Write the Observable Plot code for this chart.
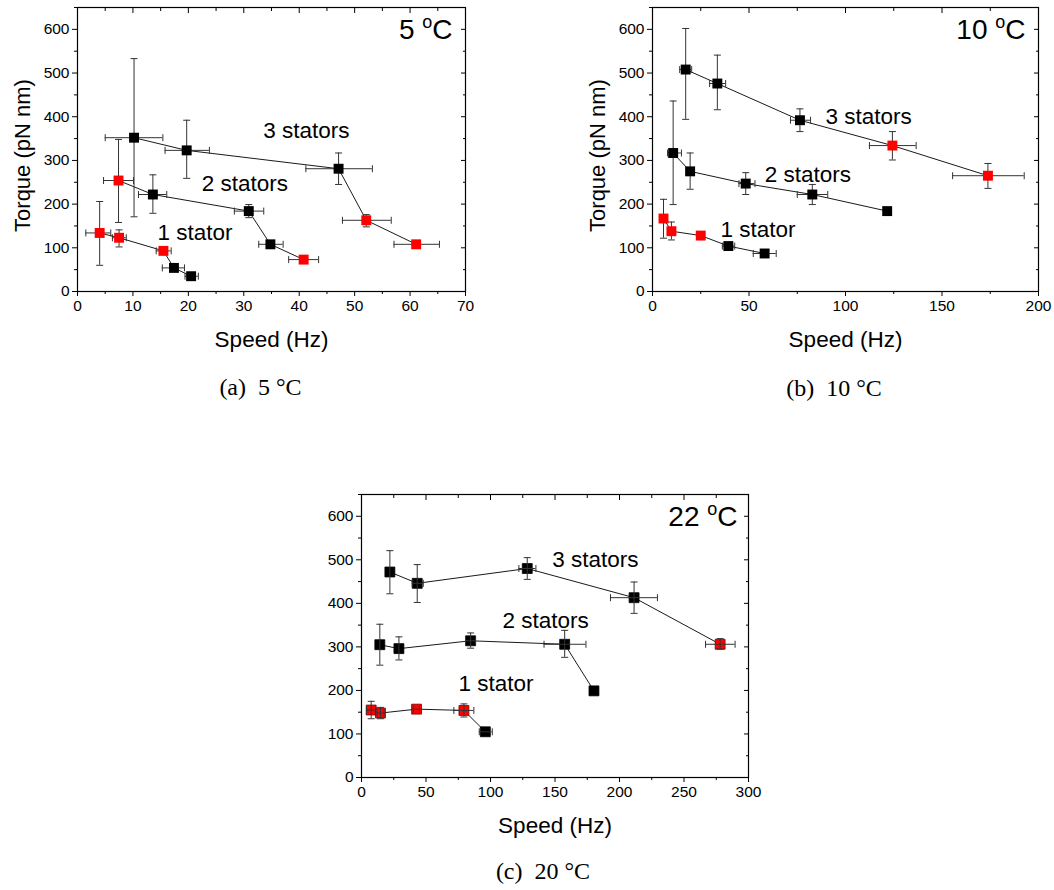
<!DOCTYPE html>
<html><head><meta charset="utf-8">
<script src="https://cdn.jsdelivr.net/npm/d3@7"></script>
<script src="https://cdn.jsdelivr.net/npm/@observablehq/plot@0.6"></script>
<style>
body{margin:0;background:#fff;}
#wrap{position:relative;width:1054px;height:890px;background:#fff;overflow:hidden}
.panel{position:absolute}
.cap{position:absolute;font-family:"Liberation Serif","DejaVu Serif",serif;font-size:24px;transform:translate(-50%,-50%);white-space:nowrap;color:#000;line-height:1}
.cap span{margin-right:12px}
</style></head><body><div id="wrap"></div>
<script>
// ---------- Panel (a) 5 °C ----------
const aStators  = [3,3,3,3,3, 2,2,2,2,2, 1,1,1,1,1];
const aSpeed    = [10.2, 19.7, 47.1, 52.1, 61.1, 7.4, 13.6, 30.9, 34.8, 40.8, 4.0, 7.5, 15.5, 17.4, 20.5];
const aTorque   = [352, 323, 281, 163, 108, 254, 222, 184, 108, 73, 134, 123, 93, 54, 35];
const aTorqueLo = [171, 259, 245, 148, null, 158, 179, 169, null, null, 60, 102, null, null, null];
const aTorqueHi = [533, 392, 317, 176, null, 348, 267, 199, null, null, 206, 141, null, null, null];
const aSpeedLo  = [5.0, 15.8, 41.2, 47.8, 57.1, 4.7, 11.0, 28.3, 32.7, 38.1, 1.5, 6.3, 14.2, 15.3, 19.4];
const aSpeedHi  = [15.4, 23.8, 53.2, 56.6, 65.3, 10.1, 16.1, 33.6, 37.1, 43.5, 6.0, 8.8, 16.9, 19.3, 21.8];
const aRed      = [0,0,0,1,1, 1,0,0,0,1, 1,1,1,0,0];
const aLabelX   = [41.3, 30.2, 21.2];
const aLabelY   = [367, 246, 134];

// ---------- Panel (b) 10 °C ----------
const bStators  = [3,3,3,3,3, 2,2,2,2,2, 1,1,1,1,1];
const bSpeed    = [17.2, 33.6, 76.4, 124.3, 173.8, 10.7, 19.5, 48.3, 82.8, 121.6, 5.7, 9.8, 25.0, 39.3, 58.1];
const bTorque   = [508, 476, 392, 334, 265, 317, 275, 247, 222, 184, 167, 138, 128, 104, 87];
const bTorqueLo = [394, 416, 366, 301, 236, 199, 234, 222, 199, null, 122, 118, null, null, null];
const bTorqueHi = [602, 541, 418, 366, 293, 436, 317, 272, 245, null, 211, 159, null, null, null];
const bSpeedLo  = [14.1, 29.6, 71.5, 112.4, 155.5, 7.8, 17.5, 44.8, 75.0, null, null, null, null, 36.2, 52.2];
const bSpeedHi  = [20.3, 37.9, 81.9, 136.6, 192.6, 15.0, 21.5, 53.1, 90.8, null, null, null, null, 42.6, 64.1];
const bRed      = [0,0,0,1,1, 0,0,0,0,0, 1,1,1,0,0];
const bLabelX   = [112, 80.5, 54.7];
const bLabelY   = [400, 268, 142];

// ---------- Panel (c) 22 °C ----------
const cStators  = [3,3,3,3,3, 2,2,2,2,2, 1,1,1,1,1];
const cSpeed    = [22.0, 43.2, 128.5, 211.3, 278.0, 14.2, 29.0, 84.6, 157.5, 180.2, 7.5, 14.7, 42.7, 79.4, 96.0];
const cTorque   = [472, 446, 480, 413, 306, 305, 296, 314, 306, 199, 155, 148, 157, 154, 105];
const cTorqueLo = [422, 402, 455, 377, 295, 258, 270, 297, 276, null, 135, 135, null, 139, null];
const cTorqueHi = [521, 489, 505, 449, 319, 352, 323, 332, 338, null, 175, 161, null, 169, null];
const cSpeedLo  = [null, 39.3, 122.0, 193.0, 266.7, null, null, 80.7, 141.5, null, 3.9, 12.0, 40.0, 71.6, 91.3];
const cSpeedHi  = [null, 47.9, 135.2, 229.4, 289.6, null, null, 88.4, 174.0, null, 11.1, 17.5, 45.0, 87.1, 101.4];
const cRed      = [0,0,0,0,1, 0,0,0,0,0, 1,1,1,1,0];
const cLabelX   = [181.3, 142.7, 104.3];
const cLabelY   = [501, 360, 215];

// ---------- shared text ----------
const seriesLabels = ["3 stators", "2 stators", "1 stator"];
const tempLabels   = ["5 °C", "10 °C", "22 °C"];
const captions     = ["(a) 5 °C", "(b) 10 °C", "(c) 20 °C"];
const yMajor = [0,100,200,300,400,500,600];
const yMinor = [50,150,250,350,450,550,650];
const aXMajor = [0,10,20,30,40,50,60,70];
const aXMinor = [5,15,25,35,45,55,65];
const bXMajor = [0,50,100,150,200];
const bXMinor = [25,75,125,175];
const cXMajor = [0,50,100,150,200,250,300];
const cXMinor = [25,75,125,175,225,275];

const hcap = {draw(ctx){ ctx.moveTo(-3.5,0); ctx.lineTo(3.5,0); }};
const vcap = {draw(ctx){ ctx.moveTo(0,-3.5); ctx.lineTo(0,3.5); }};
const ERR = "#333";
const RED = "#ff0000";

function makePanel(o) {
  const rows = o.speed.map((s,i) => ({
    n: o.stators[i], s, t: o.torque[i],
    tlo: o.tlo[i], thi: o.thi[i], slo: o.slo[i], shi: o.shi[i], red: o.red[i]
  }));
  const vErr = rows.filter(d => d.tlo != null);
  const hErr = rows.filter(d => d.slo != null);
  const errMarks = [
    Plot.ruleX(vErr, {x: "s", y1: "tlo", y2: "thi", stroke: ERR, strokeWidth: 1}),
    Plot.dot(vErr, {x: "s", y: "tlo", symbol: hcap, fill: "none", stroke: ERR, strokeWidth: 1}),
    Plot.dot(vErr, {x: "s", y: "thi", symbol: hcap, fill: "none", stroke: ERR, strokeWidth: 1}),
    Plot.ruleY(hErr, {y: "t", x1: "slo", x2: "shi", stroke: ERR, strokeWidth: 1}),
    Plot.dot(hErr, {x: "slo", y: "t", symbol: vcap, fill: "none", stroke: ERR, strokeWidth: 1}),
    Plot.dot(hErr, {x: "shi", y: "t", symbol: vcap, fill: "none", stroke: ERR, strokeWidth: 1})
  ];
  const dots = Plot.dot(rows, {x: "s", y: "t", symbol: "square", r: 5.6,
    fill: d => d.red ? RED : "black", stroke: o.redStroke ? (d => d.red ? "#7a0000" : "black") : "none", strokeWidth: 0.8});
  const marks = [
    Plot.frame({stroke: "black", strokeWidth: 1.2}),
    Plot.axisX({ticks: o.xMajor, tickSize: 5, tickPadding: 3, fontSize: 15.5, label: null}),
    Plot.axisX({ticks: o.xMinor, tickSize: 3, tickFormat: () => "", label: null}),
    Plot.axisX({anchor: "top", ticks: o.xMajor, tickSize: -5, tickFormat: () => "", label: null}),
    Plot.axisX({anchor: "top", ticks: o.xMinor, tickSize: -3, tickFormat: () => "", label: null}),
    Plot.axisY({ticks: yMajor, tickSize: 5, tickPadding: 3, fontSize: 15.5, label: null}),
    Plot.axisY({ticks: yMinor, tickSize: 3, tickFormat: () => "", label: null}),
    Plot.axisY({anchor: "right", ticks: yMajor, tickSize: -5, tickFormat: () => "", label: null}),
    Plot.axisY({anchor: "right", ticks: yMinor, tickSize: -3, tickFormat: () => "", label: null}),
    Plot.line(rows, {x: "s", y: "t", z: "n", stroke: "black", strokeWidth: 0.9}),
    ...(o.errOver ? [] : errMarks),
    dots,
    ...(o.errOver ? errMarks : []),
    Plot.text(seriesLabels, {x: (d,i) => o.labelX[i], y: (d,i) => o.labelY[i], fontSize: 22.5}),
    Plot.text([o.temp], {frameAnchor: "top-right", dx: o.tempDx, dy: 23, textAnchor: "end", lineAnchor: "middle", fontSize: 28}),
    Plot.text(["Speed (Hz)"], {frameAnchor: "bottom", dy: 48, lineAnchor: "middle", textAnchor: "middle", fontSize: 22.5})
  ];
  if (o.yTitle) marks.push(Plot.text(["Torque (pN nm)"], {frameAnchor: "left", dx: -54.5, dy: 6, rotate: -90, textAnchor: "middle", lineAnchor: "middle", fontSize: 22}));
  const svg = Plot.plot({
    width: o.width, height: o.height,
    marginLeft: o.mL, marginTop: o.mT, marginRight: o.mR, marginBottom: o.mB,
    x: {domain: o.xDomain}, y: {domain: [0, 650]},
    style: {fontFamily: "'Liberation Sans', Arial, sans-serif", background: "white", color: "black", overflow: "visible"},
    marks
  });
  // superscript "o" in the temperature label
  d3.select(svg).selectAll("text").filter(function(){ return this.textContent === o.temp; }).each(function(){
    const el = d3.select(this);
    const parts = o.temp.split(" °");
    el.text(null);
    el.append("tspan").text(parts[0] + " ");
    el.append("tspan").attr("font-size", 18).attr("dy", -11).text("o");
    el.append("tspan").attr("font-size", 28).attr("dy", 11).text(parts[1]);
  });
  svg.classList.add("panel");
  svg.style.left = o.left + "px";
  svg.style.top = o.top + "px";
  return svg;
}

const wrap = document.getElementById("wrap");
wrap.append(makePanel({left: 0, top: 0, width: 500, height: 360, mL: 77, mT: 7, mR: 35, mB: 69,
  xDomain: [0,70], xMajor: aXMajor, xMinor: aXMinor, yTitle: true,
  stators: aStators, speed: aSpeed, torque: aTorque, tlo: aTorqueLo, thi: aTorqueHi, slo: aSpeedLo, shi: aSpeedHi, red: aRed,
  labelX: aLabelX, labelY: aLabelY, temp: tempLabels[0], tempDx: -13, errOver: false}));
wrap.append(makePanel({left: 560, top: 0, width: 494, height: 360, mL: 92, mT: 7, mR: 16, mB: 69,
  xDomain: [0,200], xMajor: bXMajor, xMinor: bXMinor, yTitle: true,
  stators: bStators, speed: bSpeed, torque: bTorque, tlo: bTorqueLo, thi: bTorqueHi, slo: bSpeedLo, shi: bSpeedHi, red: bRed,
  labelX: bLabelX, labelY: bLabelY, temp: tempLabels[1], tempDx: -13, errOver: false}));
wrap.append(makePanel({left: 290, top: 480, width: 478, height: 360, mL: 71, mT: 14, mR: 20, mB: 63,
  xDomain: [0,300], xMajor: cXMajor, xMinor: cXMinor, yTitle: false,
  stators: cStators, speed: cSpeed, torque: cTorque, tlo: cTorqueLo, thi: cTorqueHi, slo: cSpeedLo, shi: cSpeedHi, red: cRed,
  labelX: cLabelX, labelY: cLabelY, temp: tempLabels[2], tempDx: -11, errOver: true, redStroke: true}));

const capPos = [[260.5, 387], [834, 388], [543, 871]];
captions.forEach((c, i) => {
  const d = document.createElement("div");
  d.className = "cap";
  const k = c.indexOf(" ");
  const lead = document.createElement("span");
  lead.textContent = c.slice(0, k);
  d.append(lead, document.createTextNode(c.slice(k + 1)));
  d.style.left = capPos[i][0] + "px";
  d.style.top = capPos[i][1] + "px";
  wrap.append(d);
});
</script></body></html>
